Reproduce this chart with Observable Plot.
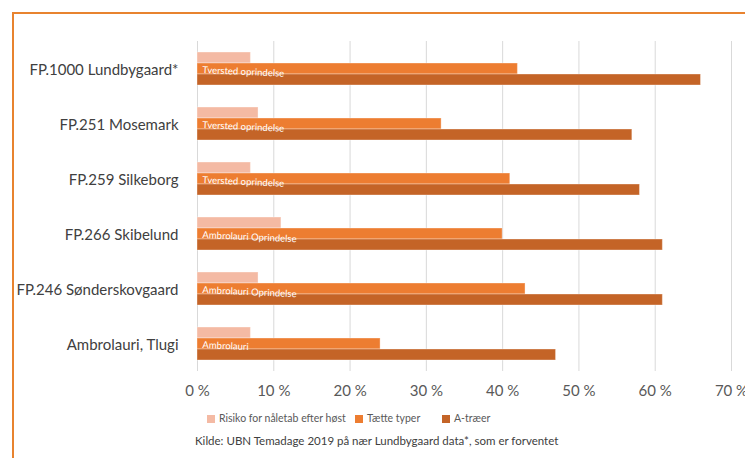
<!DOCTYPE html>
<html>
<head>
<meta charset="utf-8">
<script src="https://cdn.jsdelivr.net/npm/d3@7"></script>
<script src="https://cdn.jsdelivr.net/npm/@observablehq/plot@0.6"></script>
<style>
  html, body { margin: 0; padding: 0; background: #fff; }
  #wrap { position: relative; width: 745px; height: 458px; overflow: hidden; font-family: Lato, "Noto Sans", sans-serif; }
  #frame { position: absolute; left: 12px; top: 12px; width: 760px; height: 470px; border-left: 2px solid #E8832F; border-top: 2px solid #E8832F; }
  #chart { position: absolute; left: 0; top: 0; }
  #legend { position: absolute; left: 0; top: 412px; width: 745px; font-size: 10.5px; color: #595959; }
  #legend span.item { position: absolute; white-space: nowrap; }
  #legend i { display: inline-block; width: 8px; height: 8px; margin-right: 4px; vertical-align: -0.5px; }
  #caption { position: absolute; left: 195px; top: 434px; font-size: 11.5px; color: #404040; white-space: nowrap; }
</style>
</head>
<body>
<div id="wrap">
  <div id="frame"></div>
  <div id="chart"></div>
  <div id="legend"></div>
  <div id="caption">Kilde: UBN Temadage 2019 på nær Lundbygaard data*, som er forventet</div>
</div>
<script>
const categories = ["FP.1000 Lundbygaard*", "FP.251 Mosemark", "FP.259 Silkeborg", "FP.266 Skibelund", "FP.246 Sønderskovgaard", "Ambrolauri, Tlugi"];
const seriesNames = ["Risiko for nåletab efter høst", "Tætte typer", "A-træer"];
const seriesColors = ["#F4BAA4", "#ED7D31", "#C46427"];
const risiko = [7, 8, 7, 11, 8, 7];
const taette = [42, 32, 41, 40, 43, 24];
const atraeer = [66, 57, 58, 61, 61, 47];
const barLabels = ["Tversted oprindelse", "Tversted oprindelse", "Tversted oprindelse", "Ambrolauri Oprindelse", "Ambrolauri Oprindelse", "Ambrolauri"];
const xTicks = [0, 10, 20, 30, 40, 50, 60, 70];

const seriesValues = [risiko, taette, atraeer];
const data = [];
categories.forEach((c, i) => {
  seriesNames.forEach((s, j) => data.push({category: c, series: s, value: seriesValues[j][i]}));
});
const labelData = categories.map((c, i) => ({category: c, series: seriesNames[1], label: barLabels[i]}));

const chart = Plot.plot({
  width: 745,
  height: 406,
  marginTop: 41,
  marginBottom: 35,
  marginLeft: 197,
  marginRight: 14,
  style: {fontFamily: "Lato, 'Noto Sans', sans-serif", background: "transparent"},
  x: {domain: [0, 70], ticks: xTicks, tickFormat: d => d + " %"},
  y: {domain: seriesNames, paddingInner: 0, paddingOuter: 0.9, axis: null},
  fy: {domain: categories, padding: 0, label: null, axis: null},
  color: {domain: seriesNames, range: seriesColors},
  marks: [
    Plot.gridX({ticks: xTicks, stroke: "#D9D9D9", strokeOpacity: 1, strokeWidth: 1}),
    Plot.barX(data, {x: "value", y: "series", fy: "category", fill: "series", stroke: "#fff", strokeOpacity: 0.35, strokeWidth: 1, inset: 0}),
    Plot.text(labelData, {x: 0, y: "series", fy: "category", text: "label", textAnchor: "start", dx: 5, dy: 1, fill: "white", fontSize: 9.5, rotate: 2.5}),
    Plot.axisX({ticks: xTicks, tickFormat: d => d + " %", tickSize: 0, tickPadding: 14, fontSize: 15, color: "#595959", label: null}),
    Plot.axisFy({anchor: "left", tickSize: 0, tickPadding: 19, dy: 1.5, fontSize: 15, color: "#404040", label: null})
  ]
});
document.getElementById("chart").appendChild(chart);

const legend = document.getElementById("legend");
const legendX = [207, 355, 442];
seriesNames.forEach((s, j) => {
  const item = document.createElement("span");
  item.className = "item";
  item.style.left = legendX[j] + "px";
  item.innerHTML = `<i style="background:${seriesColors[j]}"></i>${s}`;
  legend.appendChild(item);
});
</script>
</body>
</html>
